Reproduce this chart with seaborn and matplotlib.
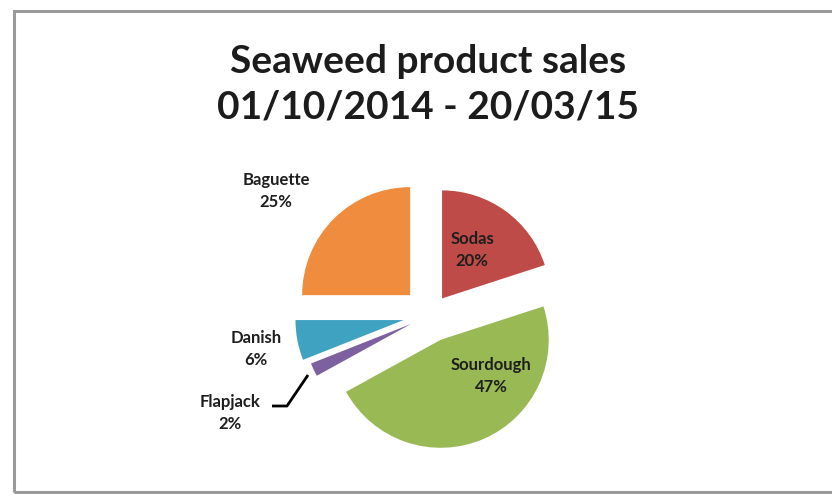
import matplotlib
matplotlib.use("Agg")
import matplotlib.pyplot as plt
import seaborn as sns
from matplotlib.patches import Rectangle

sns.set_theme(style="white")
plt.rcParams["font.family"] = ["Lato", "DejaVu Sans"]

# Sales share by product, clockwise from 12 o'clock
products = ["Sodas", "Sourdough", "Flapjack", "Danish", "Baguette"]
shares = [20, 47, 2, 6, 25]
colors = ["#BE4B48", "#98B954", "#7D60A0", "#3FA2C0", "#F08C3E"]
offsets = [0.19, 0.25, 0.19, 0.25, 0.26]

title_lines = ["Seaweed product sales", "01/10/2014 - 20/03/15"]

W, H = 832, 494
fig = plt.figure(figsize=(W / 100, H / 100), dpi=100)
ax = fig.add_axes([0, 0, 1, 1])


def Y(py):
    """Convert a top-down pixel row into the axis' bottom-up coordinate."""
    return H - py


# chart frame
ax.add_patch(Rectangle((14, Y(H - 2)), W, H - 13, fill=False,
                       edgecolor="#9a9a9a", linewidth=2.2, zorder=0))

cx, cy, r = 430, Y(315), 108
ax.pie(shares, colors=colors, explode=[o * r for o in offsets], startangle=90,
       counterclock=False, radius=r, center=(cx, cy),
       wedgeprops=dict(linewidth=0), frame=True)
ax.set_xlim(0, W)
ax.set_ylim(0, H)
ax.set_aspect("equal")
ax.axis("off")

ax.text(428, Y(61), title_lines[0], ha="center", va="center", fontsize=28,
        fontweight="bold", color="#1c1c1c")
ax.text(428, Y(107), title_lines[1], ha="center", va="center", fontsize=28,
        fontweight="bold", color="#1c1c1c")

label_pos = {
    "Sodas": (472, 250),
    "Sourdough": (491, 376),
    "Flapjack": (230, 413),
    "Danish": (256, 349),
    "Baguette": (276, 191),
}
for name, val in zip(products, shares):
    x, y = label_pos[name]
    ax.text(x, Y(y), f"{name}\n{val}%", ha="center", va="center",
            fontsize=12, fontweight="bold", color="#1e1e1e", linespacing=1.45)

# leader line for the thin slice
ax.plot([272, 287, 308], [Y(406), Y(406), Y(375)], color="black",
        linewidth=2, solid_capstyle="butt")

fig.savefig("out.png", dpi=100)
